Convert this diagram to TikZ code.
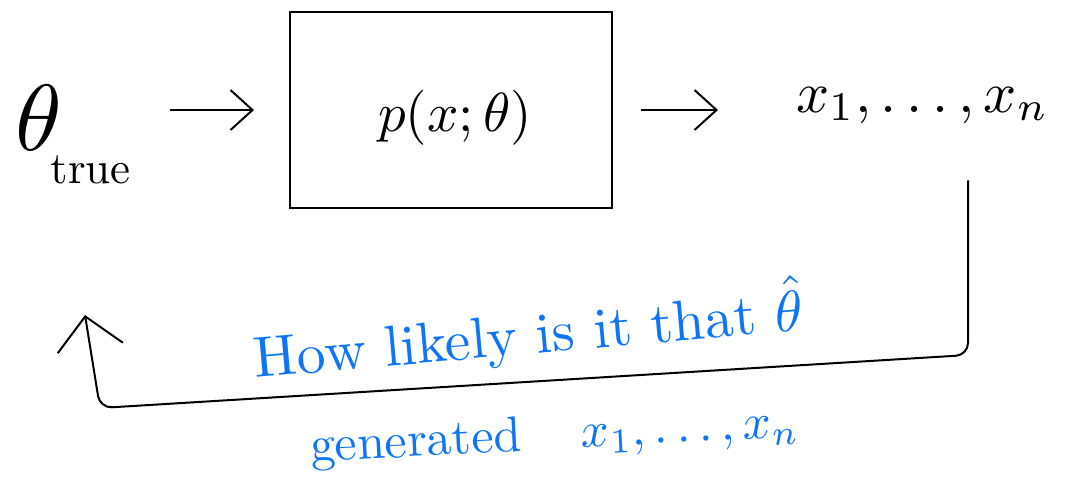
\documentclass[tikz,border=0pt]{standalone}
\usepackage{graphicx}
\usetikzlibrary{arrows.meta}
\definecolor{inkblue}{RGB}{14,118,246}
\begin{document}
\begin{tikzpicture}[x=1pt,y=-1pt,line width=2pt,
  fwd/.style={-{Straight Barb[length=22pt,width=40pt,line width=2pt]}},
  back/.style={-{Straight Barb[length=32pt,width=66pt,line width=2pt]},rounded corners=12pt},
  bluetext/.style={text=inkblue,inner sep=0pt}]
\useasboundingbox (0,0) rectangle (1070,483);
\node[anchor=base west,inner sep=0pt] (theta) at (15,150)
  {\scalebox{9.4}{$\theta$}\hspace{-12pt}\raisebox{-33pt}{\scalebox{4.5}{true}}};
\node[draw,minimum width=322pt,minimum height=196pt,inner sep=0pt] (box) at (451,110) {};
\node[inner sep=0pt] (plabel) at (455,118) {\scalebox{5.5}{$p(x;\theta)$}};
\node[anchor=base west,inner sep=0pt] (xs) at (795,112) {\scalebox{5.8}{$x_1,\ldots,x_n$}};
\coordinate (c1) at (968,355);
\coordinate (c2) at (100,408);
\coordinate (tip) at (85,315);
\draw[fwd,shorten <=38pt,shorten >=35pt] (theta.east |- box.west) -- (box.west);
\draw[fwd,shorten <=28pt,shorten >=77pt] (box.east) -- (box.east -| xs.west);
\draw[back,shorten <=56pt] (xs.south -| c1) -- (c1) -- (c2) -- (tip);
\node[bluetext,anchor=base west,rotate=5] (q1) at (255,378)
  {\scalebox{5.75}{How likely is it that $\hat{\theta}$}};
\node[bluetext,anchor=base west,rotate=3] (q2) at (310,462)
  {\scalebox{5}{generated\hspace{12pt}$x_1,\ldots,x_n$}};
\end{tikzpicture}
\end{document}
